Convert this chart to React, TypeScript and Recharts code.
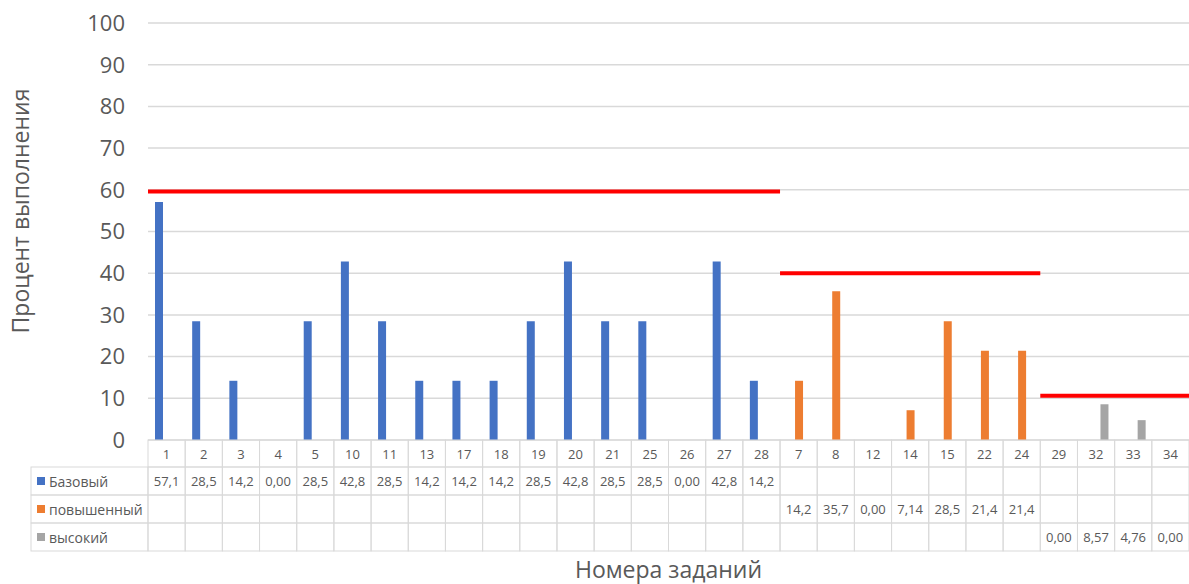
import React from 'react';
import { ComposedChart, Bar, XAxis, YAxis, CartesianGrid, ReferenceLine } from 'recharts';

// ---- data ----
const categories = ['1', '2', '3', '4', '5', '10', '11', '13', '17', '18', '19', '20', '21', '25', '26', '27', '28', '7', '8', '12', '14', '15', '22', '24', '29', '32', '33', '34'];
const basicValues: (number | null)[] = [57.1, 28.5, 14.2, 0, 28.5, 42.8, 28.5, 14.2, 14.2, 14.2, 28.5, 42.8, 28.5, 28.5, 0, 42.8, 14.2, null, null, null, null, null, null, null, null, null, null, null];
const advancedValues: (number | null)[] = [null, null, null, null, null, null, null, null, null, null, null, null, null, null, null, null, null, 14.2, 35.7, 0, 7.14, 28.5, 21.4, 21.4, null, null, null, null];
const highValues: (number | null)[] = [null, null, null, null, null, null, null, null, null, null, null, null, null, null, null, null, null, null, null, null, null, null, null, null, 0, 8.57, 4.76, 0];
const seriesNames = ['Базовый', 'повышенный', 'высокий'];
const yTicks = [0, 10, 20, 30, 40, 50, 60, 70, 80, 90, 100];
// threshold levels and the category index ranges (band edges) they cover
const thresholdLevels = [59.6, 40, 10.6];
const thresholdStarts = [0, 17, 24];
const thresholdEnds = [17, 24, 28];

// ---- layout / style ----
const W = 1189;
const H = 584;
const PLOT_LEFT = 148;
const PLOT_TOP = 23;
const X_AXIS_H = 144;
const BW = (W - PLOT_LEFT) / categories.length;
const HEADER_H = 27;
const ROW_H = 28;
const LEGEND_LEFT = 31;
const BORDER = '#d9d9d9';
const TEXT = '#595959';
const COLORS = ['#4472C4', '#ED7D31', '#A5A5A5'];
const FONT = "'Open Sans', 'Noto Sans', sans-serif";
const Y_TITLE_X = 20;
const Y_TITLE_CY = 211;

const seriesArrays = [basicValues, advancedValues, highValues];
const data = categories.map((c, i) => ({
  cat: c,
  idx: i,
  basic: basicValues[i],
  advanced: advancedValues[i],
  high: highValues[i],
}));

const fmt = (v: number | null) => (v === null || v === undefined ? '' : v.toPrecision(3).replace('.', ','));

const TableTick = (props: any) => {
  const { x, y, payload } = props;
  const idx: number = payload && payload.index !== undefined ? payload.index : props.index;
  const left = x - BW / 2;
  return (
    <g>
      <rect x={left} y={y} width={BW} height={HEADER_H} fill="none" stroke={BORDER} strokeWidth={1} />
      <text x={x} y={y + HEADER_H / 2} textAnchor="middle" dominantBaseline="central" fontSize={13} fill={TEXT} fontFamily={FONT}>
        {payload.value}
      </text>
      {seriesArrays.map((arr, r) => (
        <g key={r}>
          <rect x={left} y={y + HEADER_H + r * ROW_H} width={BW} height={ROW_H} fill="none" stroke={BORDER} strokeWidth={1} />
          <text x={x} y={y + HEADER_H + r * ROW_H + ROW_H / 2} textAnchor="middle" dominantBaseline="central" fontSize={13} fill={TEXT} fontFamily={FONT}>
            {fmt(arr[idx])}
          </text>
        </g>
      ))}
      {idx === 0 &&
        seriesNames.map((name, r) => (
          <g key={'l' + r}>
            <rect x={LEGEND_LEFT} y={y + HEADER_H + r * ROW_H} width={left - LEGEND_LEFT} height={ROW_H} fill="none" stroke={BORDER} strokeWidth={1} />
            <rect x={LEGEND_LEFT + 6} y={y + HEADER_H + r * ROW_H + ROW_H / 2 - 4} width={8} height={8} fill={COLORS[r]} />
            <text x={LEGEND_LEFT + 18} y={y + HEADER_H + r * ROW_H + ROW_H / 2} textAnchor="start" dominantBaseline="central" fontSize={14} fill={TEXT} fontFamily={FONT}>
              {name}
            </text>
          </g>
        ))}
    </g>
  );
};

const YTitle = () => (
  <text
    x={Y_TITLE_X}
    y={Y_TITLE_CY}
    transform={`rotate(-90 ${Y_TITLE_X} ${Y_TITLE_CY})`}
    textAnchor="middle"
    dominantBaseline="central"
    fontSize={23}
    fill={TEXT}
    fontFamily={FONT}
  >
    Процент выполнения
  </text>
);

export default function App() {
  return (
    <div style={{ position: 'absolute', left: 0, top: 0, width: W, height: H, background: '#fff' }}>
      <ComposedChart
        width={W}
        height={H}
        data={data}
        margin={{ top: PLOT_TOP, right: 0, left: 0, bottom: 0 }}
        barGap={0}
        style={{ fontFamily: FONT }}
      >
        <CartesianGrid vertical={false} stroke={BORDER} strokeWidth={1.5} />
        <XAxis
          dataKey="cat"
          height={X_AXIS_H}
          interval={0}
          tickSize={0}
          tickMargin={0}
          axisLine={false}
          tickLine={false}
          tick={<TableTick />}
          label={{ value: 'Номера заданий', position: 'insideBottom', offset: 6, fontSize: 23, fill: TEXT }}
        />
        <XAxis
          xAxisId="span"
          dataKey="idx"
          type="number"
          domain={[-0.5, categories.length - 0.5]}
          allowDataOverflow
          hide
        />
        <YAxis
          width={PLOT_LEFT}
          domain={[0, 100]}
          ticks={yTicks}
          interval={0}
          tickSize={0}
          tickMargin={23}
          axisLine={false}
          tickLine={false}
          tick={{ fontSize: 22, fill: TEXT }}
          label={{ content: () => <YTitle /> }}
        />
        <Bar dataKey="basic" fill={COLORS[0]} barSize={8} isAnimationActive={false} />
        <Bar dataKey="advanced" fill={COLORS[1]} barSize={8} isAnimationActive={false} />
        <Bar dataKey="high" fill={COLORS[2]} barSize={8} isAnimationActive={false} />
        {thresholdLevels.map((lvl, i) => (
          <ReferenceLine
            key={i}
            xAxisId="span"
            segment={[
              { x: thresholdStarts[i] - 0.5, y: lvl },
              { x: thresholdEnds[i] - 0.5, y: lvl },
            ]}
            stroke="#FF0000"
            strokeWidth={4}
            ifOverflow="visible"
          />
        ))}
      </ComposedChart>
    </div>
  );
}
